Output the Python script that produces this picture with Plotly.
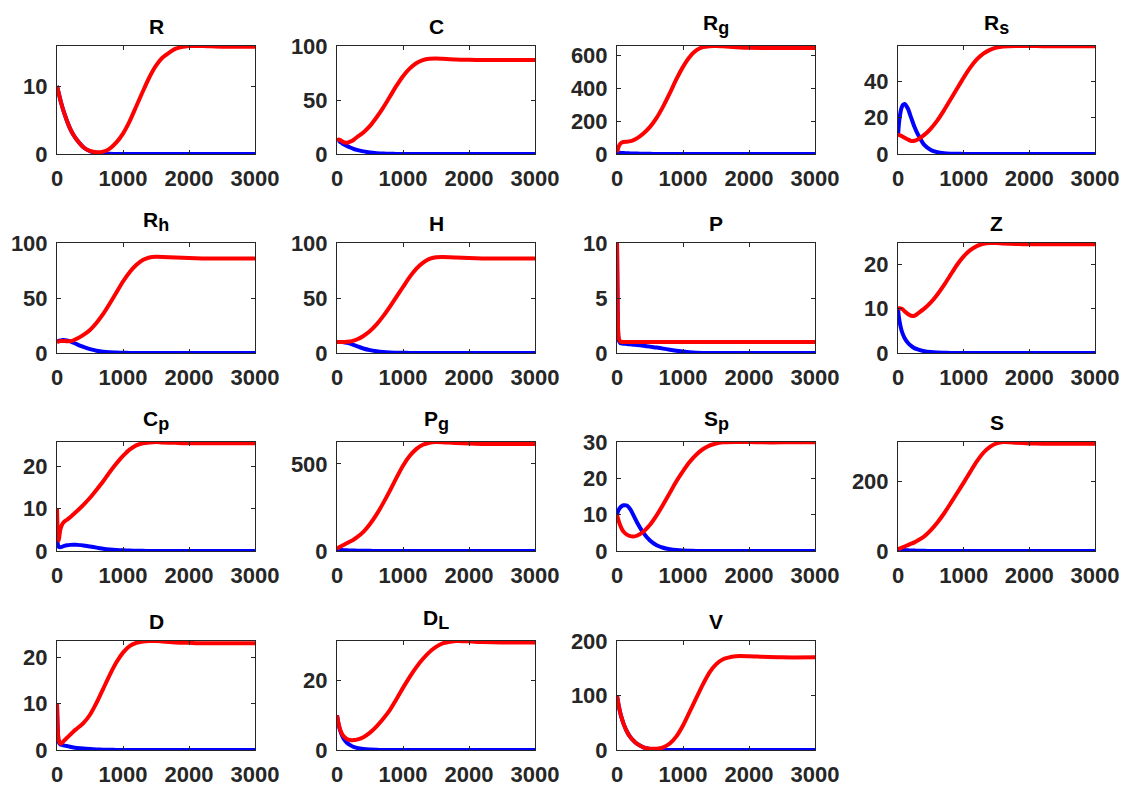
import plotly.graph_objects as go

# time grid
T = [0, 10, 25, 50, 75, 100, 150, 200, 250, 300, 400, 500, 600, 700, 800, 900,
     1000, 1100, 1200, 1300, 1400, 1500, 1600, 1800, 2000, 2200, 2500, 3000]

titles = ["R", "C", "R<sub>g</sub>", "R<sub>s</sub>", "R<sub>h</sub>", "H", "P", "Z",
          "C<sub>p</sub>", "P<sub>g</sub>", "S<sub>p</sub>", "S", "D", "D<sub>L</sub>", "V"]

R_red = [10, 9.6, 9.0, 8.0, 7.1, 6.3, 4.9, 3.7, 2.8, 2.1, 1.0, 0.45, 0.25, 0.35, 0.8, 1.7,
         3.0, 4.8, 7.0, 9.2, 11.3, 13.0, 14.2, 15.5, 15.9, 15.9, 15.8, 15.8]
R_blue = [10, 9.6, 9.0, 8.0, 7.1, 6.3, 4.9, 3.7, 2.8, 2.1, 1.0, 0.4, 0.15, 0.05, 0.02, 0,
          0, 0, 0, 0, 0, 0, 0, 0, 0, 0, 0, 0]

C_red = [12, 13, 13.5, 13, 12, 11, 10.5, 11.5, 13, 15.5, 20, 26, 34, 43, 53, 63,
         72, 79, 84, 87, 88.3, 88.5, 88.2, 87.5, 87.2, 87, 87, 87]
C_blue = [12, 12.5, 12, 11, 10, 9, 7.5, 6, 4.8, 3.8, 2.4, 1.4, 0.8, 0.4, 0.2, 0.1,
          0.05, 0, 0, 0, 0, 0, 0, 0, 0, 0, 0, 0]

Rg_red = [10, 25, 45, 62, 70, 73, 75, 78, 85, 95, 125, 165, 220, 290, 370, 455,
          530, 590, 630, 650, 656, 657, 655, 650, 646, 645, 645, 645]
Rg_blue = [10, 9, 8, 7, 6, 5.5, 4.5, 3.5, 3, 2.5, 1.5, 1, 0.5, 0.3, 0.1, 0,
           0, 0, 0, 0, 0, 0, 0, 0, 0, 0, 0, 0]

Rs_red = [10.5, 10.5, 10.3, 10, 9.5, 9, 8, 7.2, 7.3, 8, 10.5, 14, 18.5, 24, 30, 36,
          42, 47.5, 52, 55.2, 57.3, 58.5, 59.1, 59.4, 59.4, 59.3, 59.3, 59.3]
Rs_blue = [10, 15, 20, 25, 27, 27.5, 25, 20, 15, 11, 5, 2.2, 1, 0.45, 0.2, 0.1,
           0.05, 0, 0, 0, 0, 0, 0, 0, 0, 0, 0, 0]

Rh_red = [10, 10.2, 10.5, 10.8, 11, 11, 10.7, 10.8, 11.5, 13, 16.5, 21, 27.5, 35.5, 45, 55,
          65, 73.5, 80, 84.5, 86.8, 87.4, 87.3, 86.8, 86.3, 86, 86, 86]
Rh_blue = [10, 10.5, 11, 11.5, 11.7, 11.8, 11.3, 10.5, 9.3, 8, 5.5, 3.5, 2.1, 1.2, 0.7, 0.4,
           0.2, 0.1, 0.05, 0, 0, 0, 0, 0, 0, 0, 0, 0]

H_red = [10, 10, 10, 10, 10, 10, 10.2, 10.5, 11.2, 12.3, 15.5, 20, 26, 33.5, 42, 51,
         60, 69, 76.5, 82, 85.5, 87, 87.2, 86.8, 86.3, 86, 86, 86]
H_blue = [10, 10, 10, 10, 9.9, 9.8, 9.3, 8.5, 7.4, 6.2, 4.1, 2.6, 1.6, 0.9, 0.5, 0.3,
          0.15, 0.08, 0.04, 0, 0, 0, 0, 0, 0, 0, 0, 0]

P_red = [10, 4, 1.4, 1.05, 1.0, 1.0, 1.0, 1.0, 1.0, 1.0, 1.0, 1.0, 1.0, 1.0, 1.0, 1.0,
         1.0, 1.0, 1.0, 1.0, 1.0, 1.0, 1.0, 1.0, 1.0, 1.0, 1.0, 1.0]
P_blue = [10, 3.8, 1.2, 0.9, 0.87, 0.85, 0.82, 0.79, 0.76, 0.73, 0.66, 0.58, 0.5, 0.4, 0.3, 0.2,
          0.13, 0.07, 0.03, 0.01, 0, 0, 0, 0, 0, 0, 0, 0]

Z_red = [10, 10.1, 10.1, 10, 9.8, 9.4, 8.8, 8.4, 8.4, 8.9, 10.0, 11.4, 13.2, 15.3, 17.6, 19.9,
         21.8, 23.2, 24.1, 24.6, 24.8, 24.8, 24.7, 24.6, 24.5, 24.5, 24.5, 24.5]
Z_blue = [10, 8.5, 7, 5.3, 4.2, 3.4, 2.3, 1.6, 1.1, 0.8, 0.4, 0.2, 0.1, 0.05, 0.02, 0,
          0, 0, 0, 0, 0, 0, 0, 0, 0, 0, 0, 0]

Cp_red = [10, 5, 2.5, 5, 6.2, 6.8, 7.4, 8, 8.7, 9.4, 10.9, 12.6, 14.5, 16.5, 18.7, 20.7,
          22.5, 24, 25, 25.5, 25.7, 25.8, 25.7, 25.6, 25.5, 25.5, 25.5, 25.5]
Cp_blue = [3, 1.8, 1.0, 0.9, 1.0, 1.15, 1.35, 1.45, 1.5, 1.45, 1.3, 1.05, 0.8, 0.55, 0.37, 0.24,
           0.15, 0.09, 0.05, 0.03, 0, 0, 0, 0, 0, 0, 0, 0]

Pg_red = [10, 15, 20, 25, 30, 35, 45, 55, 65, 78, 110, 155, 210, 275, 345, 420,
          490, 545, 585, 610, 622, 626, 625, 620, 617, 615, 615, 615]
Pg_blue = [10, 9, 8, 7, 6, 5, 4, 3, 2.5, 2, 1.3, 0.8, 0.5, 0.3, 0.1, 0,
           0, 0, 0, 0, 0, 0, 0, 0, 0, 0, 0, 0]

Sp_red = [10, 9.3, 8.3, 7, 6, 5.3, 4.5, 4.1, 4.0, 4.2, 5.3, 7.2, 9.8, 12.8, 16, 19.2,
          22, 24.5, 26.5, 28, 29, 29.6, 29.9, 30, 30, 29.9, 29.9, 29.9]
Sp_blue = [10, 10.6, 11.3, 12, 12.4, 12.6, 12.5, 11.5, 9.8, 8, 5, 2.9, 1.6, 0.9, 0.5, 0.25,
           0.12, 0.06, 0.03, 0, 0, 0, 0, 0, 0, 0, 0, 0]

S_red = [5, 6, 7, 9, 11, 13, 17, 21, 25, 30, 42, 60, 82, 108, 137, 167,
         197, 228, 258, 283, 300, 310, 314, 312, 310, 309, 309, 309]
S_blue = [5, 4.6, 4.2, 3.5, 3, 2.6, 2, 1.5, 1.1, 0.8, 0.4, 0.2, 0.1, 0.05, 0, 0,
          0, 0, 0, 0, 0, 0, 0, 0, 0, 0, 0, 0]

D_red = [10, 5, 2.2, 1.4, 1.5, 1.9, 2.6, 3.3, 4, 4.6, 5.8, 7.6, 10.2, 13.2, 16.2, 18.9,
         21, 22.4, 23.1, 23.4, 23.5, 23.5, 23.4, 23.2, 23.1, 23, 23, 23]
D_blue = [10, 4.8, 1.8, 1.2, 1.1, 1.0, 0.85, 0.7, 0.55, 0.45, 0.3, 0.2, 0.12, 0.07, 0.04, 0.02,
          0, 0, 0, 0, 0, 0, 0, 0, 0, 0, 0, 0]

DL_red = [10, 9, 7.5, 5.8, 4.7, 4, 3.2, 2.9, 2.85, 3, 3.7, 5, 6.8, 9, 11.5, 14.6,
          17.9, 21, 23.8, 26.2, 28.2, 29.7, 30.7, 31.4, 31.3, 31.1, 31, 31]
DL_blue = [10, 8.8, 7.3, 5.5, 4.2, 3.3, 2.1, 1.4, 0.9, 0.6, 0.27, 0.12, 0.05, 0.02, 0, 0,
           0, 0, 0, 0, 0, 0, 0, 0, 0, 0, 0, 0]

V_red = [100, 92, 82, 68, 57, 48, 34, 24, 17, 11.5, 5, 2.5, 2.5, 5, 12, 25,
         45, 70, 95, 120, 142, 157, 166, 172, 172, 171, 170, 170]
V_blue = [100, 92, 82, 68, 57, 48, 34, 24, 17, 11.5, 5, 2, 0.8, 0.3, 0.1, 0,
          0, 0, 0, 0, 0, 0, 0, 0, 0, 0, 0, 0]

reds = [R_red, C_red, Rg_red, Rs_red, Rh_red, H_red, P_red, Z_red,
        Cp_red, Pg_red, Sp_red, S_red, D_red, DL_red, V_red]
blues = [R_blue, C_blue, Rg_blue, Rs_blue, Rh_blue, H_blue, P_blue, Z_blue,
         Cp_blue, Pg_blue, Sp_blue, S_blue, D_blue, DL_blue, V_blue]

y_dticks = [10, 50, 200, 20, 50, 50, 5, 10, 10, 500, 10, 200, 10, 20, 100]
y_fixed_top = [None, 100, None, None, 100, 100, 10, None, None, None, None, None, None, None, 200]
x_ticks = [0, 1000, 2000, 3000]

W, H = 1137, 790
col_x = [(57, 255), (337, 535), (617, 815), (898, 1095)]
row_y = [(46, 154), (243, 353), (442, 551), (641, 750)]

FONT = "Liberation Sans"
fig = go.Figure()
layout = dict(width=W, height=H, margin=dict(l=0, r=0, t=0, b=0, autoexpand=False),
              paper_bgcolor="white", plot_bgcolor="white", showlegend=False)
annotations = []


def title_html(t):
    return "<b>" + t.replace("<sub>", "<sub><span style=\"font-size:18px\">")\
        .replace("</sub>", "</span></sub>") + "</b>"


for k in range(15):
    r, c = divmod(k, 4)
    n = "" if k == 0 else str(k + 1)
    xa, ya = "x" + n, "y" + n
    fig.add_trace(go.Scatter(x=T, y=blues[k], mode="lines", xaxis=xa, yaxis=ya,
                             line=dict(color="#0000FF", width=4, shape="spline", smoothing=0.6)))
    fig.add_trace(go.Scatter(x=T, y=reds[k], mode="lines", xaxis=xa, yaxis=ya,
                             line=dict(color="#FF0000", width=4, shape="spline", smoothing=0.6)))
    x0, x1 = col_x[c]
    y0, y1 = row_y[r]
    top = y_fixed_top[k] if y_fixed_top[k] is not None else max(max(reds[k]), max(blues[k]))
    axcommon = dict(showline=True, linecolor="#262626", linewidth=1, mirror="allticks",
                    ticks="inside", ticklen=4, tickcolor="#262626", showgrid=False,
                    zeroline=False, automargin=False,
                    tickfont=dict(family=FONT, size=22, color="#262626", weight="bold"))
    layout["xaxis" + n] = dict(domain=[x0 / W, x1 / W], range=[0, 3000], anchor=ya,
                               tickvals=x_ticks, ticklabelstandoff=5, **axcommon)
    layout["yaxis" + n] = dict(domain=[1 - y1 / H, 1 - y0 / H], range=[0, top], anchor=xa,
                               tick0=0, dtick=y_dticks[k], ticklabelstandoff=4, **axcommon)
    annotations.append(dict(text=title_html(titles[k]), x=(x0 + x1) / 2 / W,
                            y=1 - y0 / H, xref="paper", yref="paper", xanchor="center",
                            yanchor="bottom", yshift=6, showarrow=False,
                            font=dict(family=FONT, size=21, color="black")))

layout["annotations"] = annotations
fig.update_layout(**layout)
fig.write_html("out.html")
